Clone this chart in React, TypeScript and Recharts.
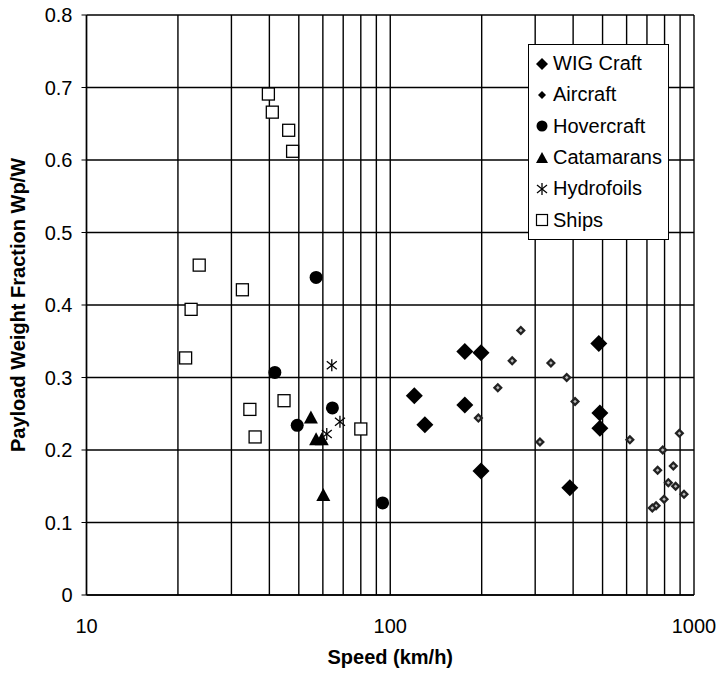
import React from "react";
import {
  CartesianGrid,
  Label,
  Scatter,
  ScatterChart,
  XAxis,
  YAxis,
} from "recharts";

// speeds in km/h, payload fraction Wp/W
const wigSpeed = [120, 130, 176, 199, 176, 199, 390, 486, 490, 490];
const wigPayload = [0.275, 0.235, 0.336, 0.334, 0.262, 0.171, 0.148, 0.347, 0.251, 0.23];

const aircraftSpeed = [269, 252, 338, 381, 226, 195, 311, 406, 615, 895, 789, 759, 855, 823, 870, 927, 797, 750, 729];
const aircraftPayload = [0.365, 0.323, 0.32, 0.3, 0.286, 0.244, 0.211, 0.267, 0.214, 0.223, 0.2, 0.172, 0.178, 0.155, 0.15, 0.139, 0.132, 0.123, 0.12];

const hoverSpeed = [57, 41.7, 64.5, 49.4, 94.4];
const hoverPayload = [0.438, 0.307, 0.258, 0.234, 0.127];

const catSpeed = [54.8, 57, 59.5, 60.2];
const catPayload = [0.245, 0.215, 0.215, 0.138];

const hydroSpeed = [64.2, 68.3, 61.8];
const hydroPayload = [0.317, 0.239, 0.222];

const shipSpeed = [39.7, 40.9, 46.3, 47.7, 23.5, 32.6, 22.1, 21.2, 34.5, 44.7, 35.9, 80];
const shipPayload = [0.691, 0.666, 0.641, 0.612, 0.455, 0.421, 0.394, 0.327, 0.256, 0.268, 0.218, 0.229];

const xTicks = [10, 20, 30, 40, 50, 60, 70, 80, 90, 100, 200, 300, 400, 500, 600, 700, 800, 900, 1000];
const xLabels = [10, 100, 1000];
const yTicks = [0, 0.1, 0.2, 0.3, 0.4, 0.5, 0.6, 0.7, 0.8];

const FONT = '"Liberation Sans", Arial, sans-serif';

const zip = (xs: number[], ys: number[]) => xs.map((x, i) => ({ x, y: ys[i] }));

type P = { cx?: number; cy?: number };

const BigDiamond = ({ cx = 0, cy = 0 }: P) => (
  <path d={`M${cx},${cy - 8.5} L${cx + 8.5},${cy} L${cx},${cy + 8.5} L${cx - 8.5},${cy} Z`} fill="#000" />
);
const SmallDiamond = ({ cx = 0, cy = 0 }: P) => (
  <g>
    <path d={`M${cx},${cy - 5} L${cx + 5},${cy} L${cx},${cy + 5} L${cx - 5},${cy} Z`} fill="#222" />
    <path d={`M${cx},${cy - 1.8} L${cx + 1.8},${cy} L${cx},${cy + 1.8} L${cx - 1.8},${cy} Z`} fill="#bbb" />
  </g>
);
const Dot = ({ cx = 0, cy = 0 }: P) => <circle cx={cx} cy={cy} r={6.5} fill="#000" />;
const Tri = ({ cx = 0, cy = 0 }: P) => (
  <path d={`M${cx},${cy - 7} L${cx + 7},${cy + 6} L${cx - 7},${cy + 6} Z`} fill="#000" />
);
const Star = ({ cx = 0, cy = 0 }: P) => (
  <g stroke="#000" strokeWidth={1.3}>
    <line x1={cx} y1={cy - 6} x2={cx} y2={cy + 6} />
    <line x1={cx - 5} y1={cy - 4} x2={cx + 5} y2={cy + 4} />
    <line x1={cx - 5} y1={cy + 4} x2={cx + 5} y2={cy - 4} />
  </g>
);
const Square = ({ cx = 0, cy = 0 }: P) => (
  <rect x={cx - 6} y={cy - 6} width={12} height={12} fill="#fff" stroke="#000" strokeWidth={1.3} />
);

const series = [
  { name: "WIG Craft", data: zip(wigSpeed, wigPayload), shape: BigDiamond, icon: (c: number) => <path d={`M7,${c - 6} L13,${c} L7,${c + 6} L1,${c} Z`} fill="#000" /> },
  { name: "Aircraft", data: zip(aircraftSpeed, aircraftPayload), shape: SmallDiamond, icon: (c: number) => <path d={`M7,${c - 4} L11,${c} L7,${c + 4} L3,${c} Z`} fill="#000" /> },
  { name: "Hovercraft", data: zip(hoverSpeed, hoverPayload), shape: Dot, icon: (c: number) => <circle cx={7} cy={c} r={5.5} fill="#000" /> },
  { name: "Catamarans", data: zip(catSpeed, catPayload), shape: Tri, icon: (c: number) => <path d={`M7,${c - 6} L13,${c + 5} L1,${c + 5} Z`} fill="#000" /> },
  {
    name: "Hydrofoils",
    data: zip(hydroSpeed, hydroPayload),
    shape: Star,
    icon: (c: number) => (
      <g stroke="#000" strokeWidth={1.3}>
        <line x1={7} y1={c - 6} x2={7} y2={c + 6} />
        <line x1={2} y1={c - 4} x2={12} y2={c + 4} />
        <line x1={2} y1={c + 4} x2={12} y2={c - 4} />
      </g>
    ),
  },
  { name: "Ships", data: zip(shipSpeed, shipPayload), shape: Square, icon: (c: number) => <rect x={1.5} y={c - 5.5} width={11} height={11} fill="#fff" stroke="#000" strokeWidth={1.2} /> },
];

function LegendBox() {
  return (
    <div
      style={{
        position: "absolute",
        left: 528,
        top: 44,
        width: 141,
        border: "1.5px solid #000",
        background: "#fff",
        padding: "3px 2px 3px 6px",
        fontFamily: FONT,
        fontSize: 20,
        color: "#000",
        boxSizing: "border-box",
        whiteSpace: "nowrap",
      }}
    >
      {series.map((s) => (
        <div key={s.name} style={{ display: "flex", alignItems: "center", height: 31.3 }}>
          <svg width={15} height={20} style={{ marginRight: 3, flexShrink: 0 }}>
            {s.icon(10)}
          </svg>
          <span>{s.name}</span>
        </div>
      ))}
    </div>
  );
}

export default function App() {
  return (
    <div style={{ position: "absolute", left: 0, top: 0, width: 716, height: 673, background: "#fff" }}>
      <ScatterChart
        width={716}
        height={673}
        margin={{ top: 15, right: 22, bottom: 48, left: 0 }}
        style={{ fontFamily: FONT }}
      >
        <CartesianGrid stroke="#000" strokeWidth={1.4} />
        <XAxis
          type="number"
          dataKey="x"
          scale="log"
          domain={[10, 1000]}
          ticks={xTicks}
          interval={0}
          allowDataOverflow
          tickFormatter={(v: number) => (xLabels.includes(v) ? String(v) : "")}
          tickLine={false}
          axisLine={{ stroke: "#000", strokeWidth: 1.4 }}
          tick={{ fill: "#000", fontSize: 20 }}
          tickMargin={18}
          height={30}
        >
          <Label
            value="Speed (km/h)"
            position="bottom"
            offset={25}
            style={{ fontWeight: "bold", fontSize: 20, fill: "#000" }}
          />
        </XAxis>
        <YAxis
          type="number"
          dataKey="y"
          domain={[0, 0.8]}
          ticks={yTicks}
          interval={0}
          width={86.5}
          tickFormatter={(v: number) => (v === 0 ? "0" : v.toFixed(1))}
          tickSize={5}
          tickLine={{ stroke: "#000" }}
          axisLine={{ stroke: "#000", strokeWidth: 1.4 }}
          tick={{ fill: "#000", fontSize: 20 }}
          tickMargin={9}
        >
          <Label
            value="Payload Weight Fraction Wp/W"
            angle={-90}
            position="insideLeft"
            offset={18}
            style={{ fontWeight: "bold", fontSize: 20, fill: "#000", textAnchor: "middle" }}
          />
        </YAxis>
        {series.map((s) => (
          <Scatter
            key={s.name}
            name={s.name}
            data={s.data}
            shape={s.shape as any}
            isAnimationActive={false}
          />
        ))}
      </ScatterChart>
      <LegendBox />
    </div>
  );
}
